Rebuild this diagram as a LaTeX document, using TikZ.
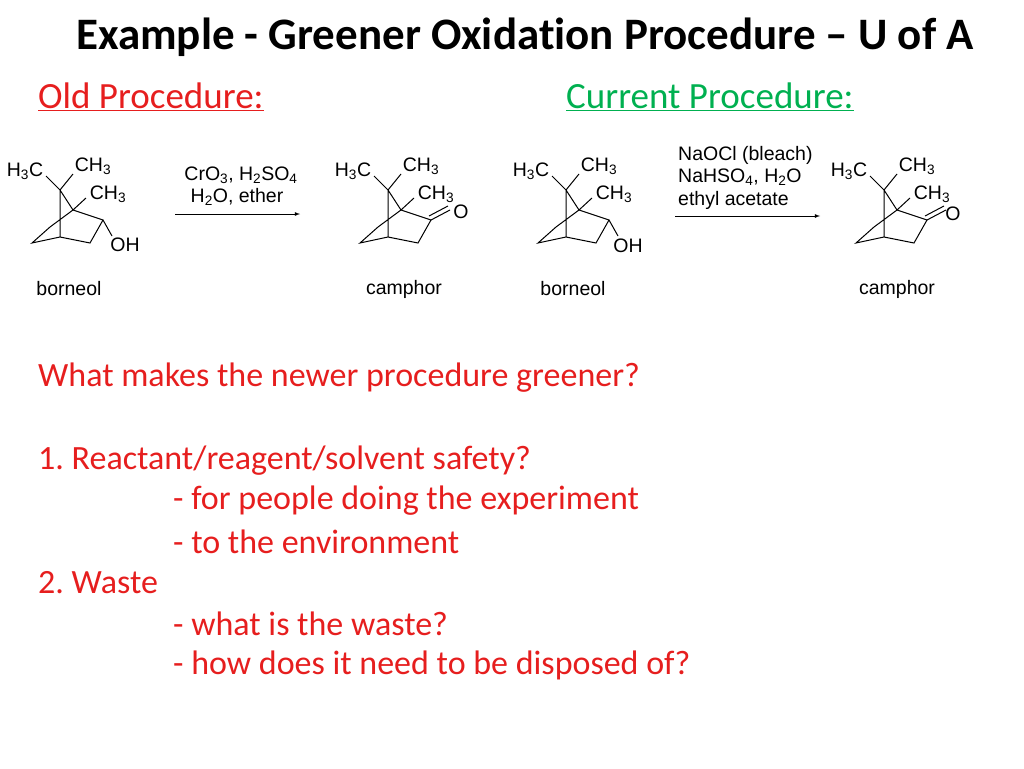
\documentclass[tikz,border=0pt]{standalone}
\usepackage{fontspec}
\setmainfont[RawFeature=-liga]{Carlito}
\newfontfamily\chemf{Liberation Sans}
\definecolor{myred}{RGB}{230,30,30}
\definecolor{mygreen}{RGB}{0,176,80}
\frenchspacing
\begin{document}
\begin{tikzpicture}[x=1pt,y=-1pt,
  bond/.style={line width=1pt},
  lab/.style={font=\chemf\fontsize{19.5}{22}\selectfont,inner sep=0pt},
  txt/.style={font=\fontsize{34}{40}\selectfont,text=myred,anchor=west,inner sep=0pt},
  pics/skel/.style={code={
    \coordinate (c7) at (60,190); \coordinate (c1) at (73,210);
    \coordinate (c2) at (103,220); \coordinate (c3) at (90,243);
    \coordinate (c4) at (60,237); \coordinate (c5) at (32,243);
    \coordinate (c6) at (50,227);
    \draw[bond] (c7)--(c4) (c7)--(c1)--(c2)--(c3)--(c4)--(c5)--(c6)--(c1);
    \draw[bond] (c7)--(46,176) (c7)--(73,174) (c1)--(86,198);
    \node[lab] (a) at (25,171) {H\textsubscript{3}C};
    \node[lab] (b) at (93,166) {CH\textsubscript{3}};
    \node[lab] (c) at (108,194) {CH\textsubscript{3}};
  }}]
\useasboundingbox (0,0) rectangle (1024,768);
\node[font=\bfseries\fontsize{45}{50}\selectfont,inner sep=0pt] (title) at (525,37) {Example - Greener Oxidation Procedure -- U of A};
\node[txt,font=\fontsize{37}{42}\selectfont] (old) at (38,97) {\underline{Old Procedure:}};
\node[txt,text=mygreen,font=\fontsize{37}{42}\selectfont] (cur) at (566,97) {\underline{Current Procedure:}};
% borneol 1
\pic at (0,0) {skel};
\draw[bond] (103,220)--(112,236);
\node[lab] (oh1) at (125,245) {OH};
% camphor 1
\pic at (328,0) {skel};
\draw[bond] (431,220)--(450,210) (429,216)--(448,206);
\node[lab] (o1) at (461,212) {O};
% borneol 2
\pic at (506,0) {skel};
\draw[bond] (609,220)--(618,236);
\node[lab] (oh2) at (628,246) {OH};
% camphor 2
\pic at (824,0) {skel};
\draw[bond] (927,220)--(946,210) (925,216)--(944,206);
\node[lab] (o2) at (953,214) {O};
% arrows
\coordinate (a1s) at (175,214); \coordinate (a1e) at (300,214);
\draw[line width=0.8pt,-latex] (a1s)--(a1e);
\node[lab] (r1) at (241,175) {CrO\textsubscript{3}, H\textsubscript{2}SO\textsubscript{4}};
\node[lab] (r2) at (237,197) {H\textsubscript{2}O, ether};
\coordinate (a2s) at (675,216); \coordinate (a2e) at (820,216);
\draw[line width=0.8pt,-latex] (a2s)--(a2e);
\node[lab,anchor=west] (r3) at (678,155) {NaOCl (bleach)};
\node[lab,anchor=west] (r4) at (678,177) {NaHSO\textsubscript{4}, H\textsubscript{2}O};
\node[lab,anchor=west] (r5) at (678,200) {ethyl acetate};
% names
\node[lab] (n1) at (69,289) {borneol};
\node[lab] (n2) at (404,289) {camphor};
\node[lab] (n3) at (573,289) {borneol};
\node[lab] (n4) at (897,289) {camphor};
% text
\node[txt] (t1) at (38,378) {What makes the newer procedure greener?};
\node[txt] (t2) at (38,461) {1. Reactant/reagent/solvent safety?};
\node[txt] (t3) at (173,501) {- for people doing the experiment};
\node[txt] (t4) at (173,542) {- to the environment};
\node[txt] (t5) at (38,583) {2. Waste};
\node[txt] (t6) at (173,624) {- what is the waste?};
\node[txt] (t7) at (173,665) {- how does it need to be disposed of?};
\end{tikzpicture}
\end{document}
